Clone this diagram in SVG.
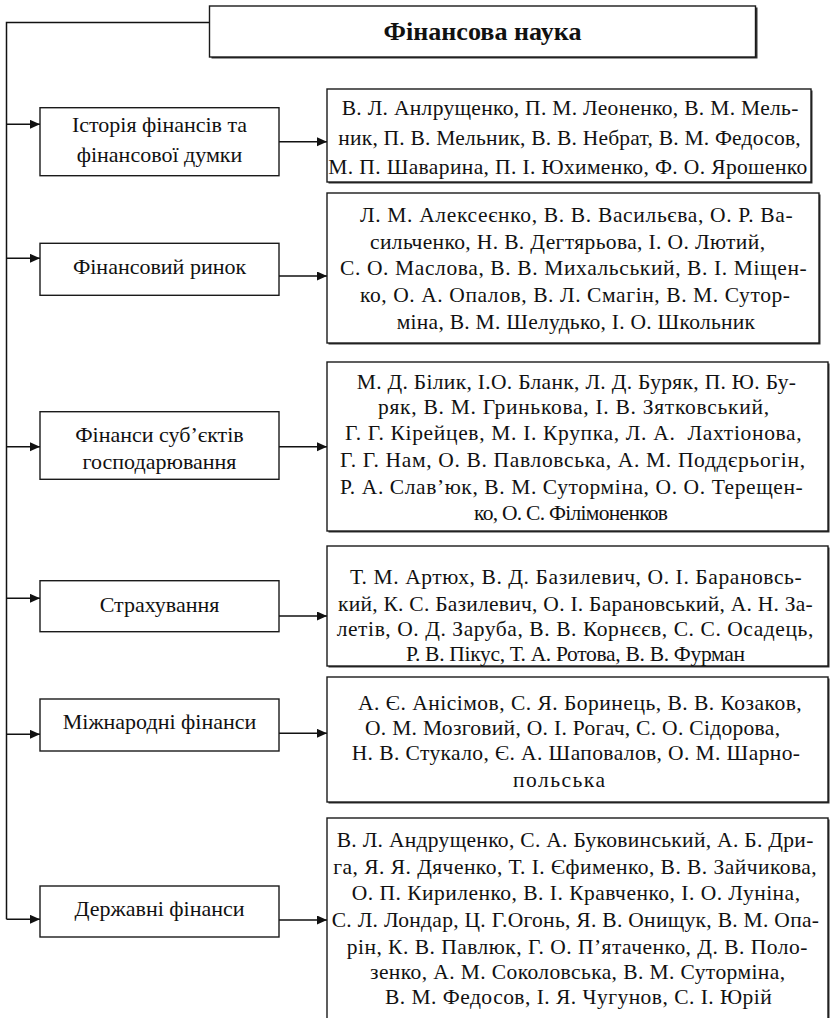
<svg xmlns="http://www.w3.org/2000/svg" width="831" height="1018" viewBox="0 0 831 1018">
<defs>
<style>
.box{fill:#fff;stroke:#1a1a1a;stroke-width:1.4}
.sh{fill:#333}
.t{font-family:"Liberation Serif","Times New Roman",serif;font-size:21.5px;fill:#111}
.lt{font-family:"Liberation Serif","Times New Roman",serif;font-size:22px;fill:#111;text-anchor:middle}
.hd{font-family:"Liberation Serif","Times New Roman",serif;font-size:25px;font-weight:bold;fill:#111;text-anchor:middle}
.conn{stroke:#111;stroke-width:1.5;fill:none}
</style>
<marker id="ah" markerUnits="userSpaceOnUse" markerWidth="11" markerHeight="10" refX="10" refY="4.5" orient="auto">
<path d="M0,0 L10,4.5 L0,9 z" fill="#111"/>
</marker>
</defs>
<rect width="831" height="1018" fill="#fff"/>

<g id="connectors">
<path class="conn" d="M210,22.5 H6.5 V919.3"/>
<path class="conn" d="M6.5,124.3 H40" marker-end="url(#ah)"/>
<path class="conn" d="M6.5,258.3 H40" marker-end="url(#ah)"/>
<path class="conn" d="M6.5,446.7 H40" marker-end="url(#ah)"/>
<path class="conn" d="M6.5,598.3 H40" marker-end="url(#ah)"/>
<path class="conn" d="M6.5,734.3 H40" marker-end="url(#ah)"/>
<path class="conn" d="M6.5,919.3 H40" marker-end="url(#ah)"/>
<path class="conn" d="M277,141.7 H327" marker-end="url(#ah)"/>
<path class="conn" d="M277,276 H327" marker-end="url(#ah)"/>
<path class="conn" d="M277,446.7 H327" marker-end="url(#ah)"/>
<path class="conn" d="M277,616 H327" marker-end="url(#ah)"/>
<path class="conn" d="M277,733.3 H327" marker-end="url(#ah)"/>
<path class="conn" d="M277,920 H327" marker-end="url(#ah)"/>
</g>

<g id="root">
<rect class="sh" x="211.5" y="7.5" width="546" height="51"/>
<rect class="box" x="209.5" y="6" width="546" height="51"/>
<text class="hd" x="482.5" y="40" textLength="198" lengthAdjust="spacingAndGlyphs">Фінансова наука</text>
</g>

<g id="topic1">
<rect class="box" x="40" y="107.7" width="239" height="68"/>
<text class="lt" x="159.5" y="132">Історія фінансів та</text>
<text class="lt" x="159.5" y="162">фінансової думки</text>
</g>
<g id="topic2">
<rect class="box" x="40" y="243.3" width="239" height="52"/>
<text class="lt" x="159.5" y="274">Фінансовий ринок</text>
</g>
<g id="topic3">
<rect class="box" x="40" y="411.7" width="239" height="67.6"/>
<text class="lt" x="159.5" y="442">Фінанси суб’єктів</text>
<text class="lt" x="159.5" y="468.5">господарювання</text>
</g>
<g id="topic4">
<rect class="box" x="40" y="580.7" width="239" height="51"/>
<text class="lt" x="159.5" y="612">Страхування</text>
</g>
<g id="topic5">
<rect class="box" x="40" y="699" width="239" height="52"/>
<text class="lt" x="159.5" y="729">Міжнародні фінанси</text>
</g>
<g id="topic6">
<rect class="box" x="40" y="886" width="239" height="51"/>
<text class="lt" x="159.5" y="916">Державні фінанси</text>
</g>

<g id="authors1">
<rect class="sh" x="328.5" y="90.5" width="484" height="93"/>
<rect class="box" x="327" y="89" width="484" height="93"/>
<text class="t" x="341.7" y="115" textLength="456.6" lengthAdjust="spacing">В. Л. Анлрущенко, П. М. Леоненко, В. М. Мель-</text>
<text class="t" x="338.3" y="145" textLength="462.4" lengthAdjust="spacing">ник, П. В. Мельник, В. В. Небрат, В. М. Федосов,</text>
<text class="t" x="328.3" y="174" textLength="479" lengthAdjust="spacing">М. П. Шаварина, П. І. Юхименко, Ф. О. Ярошенко</text>
</g>

<g id="authors2">
<rect class="sh" x="328.5" y="194.5" width="492" height="150"/>
<rect class="box" x="327" y="193" width="492" height="150"/>
<text class="t" x="360" y="222" textLength="432.7" lengthAdjust="spacing">Л. М. Алексеєнко, В. В. Васильєва, О. Р. Ва-</text>
<text class="t" x="370" y="248.7" textLength="395" lengthAdjust="spacing">сильченко, Н. В. Дегтярьова, І. О. Лютий,</text>
<text class="t" x="340" y="275.3" textLength="466.7" lengthAdjust="spacing">С. О. Маслова, В. В. Михальський, В. І. Міщен-</text>
<text class="t" x="360" y="302" textLength="430" lengthAdjust="spacing">ко, О. А. Опалов, В. Л. Смагін, В. М. Сутор-</text>
<text class="t" x="396.7" y="328.7" textLength="358.3" lengthAdjust="spacing">міна, В. М. Шелудько, І. О. Школьник</text>
</g>

<g id="authors3">
<rect class="sh" x="328.5" y="363.5" width="501" height="169"/>
<rect class="box" x="327" y="362" width="501" height="169"/>
<text class="t" x="356.7" y="388.7" textLength="439.3" lengthAdjust="spacing">М. Д. Білик, І.О. Бланк, Л. Д. Буряк, П. Ю. Бу-</text>
<text class="t" x="378" y="413.7" textLength="391" lengthAdjust="spacing">ряк, В. М. Гринькова, І. В. Зятковський,</text>
<text class="t" x="345" y="440.3" textLength="456.7" lengthAdjust="spacing" xml:space="preserve">Г. Г. Кірейцев, М. І. Крупка, Л. А.  Лахтіонова,</text>
<text class="t" x="340" y="467" textLength="465" lengthAdjust="spacing">Г. Г. Нам, О. В. Павловська, А. М. Поддєрьогін,</text>
<text class="t" x="340" y="493.7" textLength="462.7" lengthAdjust="spacing">Р. А. Слав’юк, В. М. Суторміна, О. О. Терещен-</text>
<text class="t" x="474" y="520.3" textLength="194" lengthAdjust="spacing">ко, О. С. Філімоненков</text>
</g>

<g id="authors4">
<rect class="sh" x="328.5" y="547.5" width="501" height="120"/>
<rect class="box" x="327" y="546" width="501" height="120"/>
<text class="t" x="350" y="584" textLength="451.7" lengthAdjust="spacing">Т. М. Артюх, В. Д. Базилевич, О. І. Барановсь-</text>
<text class="t" x="338" y="610.5" textLength="474.7" lengthAdjust="spacing">кий, К. С. Базилевич, О. І. Барановський, А. Н. За-</text>
<text class="t" x="336.7" y="636" textLength="476.6" lengthAdjust="spacing">летів, О. Д. Заруба, В. В. Корнєєв, С. С. Осадець,</text>
<text class="t" x="406" y="661" textLength="339" lengthAdjust="spacing">Р. В. Пікус, Т. А. Ротова, В. В. Фурман</text>
</g>

<g id="authors5">
<rect class="sh" x="328.5" y="678.5" width="501" height="125"/>
<rect class="box" x="327" y="677" width="501" height="125"/>
<text class="t" x="358" y="710" textLength="443.7" lengthAdjust="spacing">А. Є. Анісімов, С. Я. Боринець, В. В. Козаков,</text>
<text class="t" x="365" y="735" textLength="415" lengthAdjust="spacing">О. М. Мозговий, О. І. Рогач, С. О. Сідорова,</text>
<text class="t" x="351.7" y="760" textLength="448.3" lengthAdjust="spacing">Н. В. Стукало, Є. А. Шаповалов, О. М. Шарно-</text>
<text class="t" x="513" y="787" textLength="92" lengthAdjust="spacing">польська</text>
</g>

<g id="authors6">
<rect class="sh" x="328.5" y="819.5" width="501" height="220"/>
<rect class="box" x="327" y="818" width="501" height="220"/>
<text class="t" x="336.7" y="847" textLength="476.6" lengthAdjust="spacing">В. Л. Андрущенко, С. А. Буковинський, А. Б. Дри-</text>
<text class="t" x="333.3" y="874" textLength="483.4" lengthAdjust="spacing">га, Я. Я. Дяченко, Т. І. Єфименко, В. В. Зайчикова,</text>
<text class="t" x="351.7" y="900" textLength="448.3" lengthAdjust="spacing">О. П. Кириленко, В. І. Кравченко, І. О. Луніна,</text>
<text class="t" x="331.7" y="927" textLength="487.3" lengthAdjust="spacing">С. Л. Лондар, Ц. Г.Огонь, Я. В. Онищук, В. М. Опа-</text>
<text class="t" x="346.7" y="954" textLength="460.6" lengthAdjust="spacing">рін, К. В. Павлюк, Г. О. П’ятаченко, Д. В. Поло-</text>
<text class="t" x="370" y="979" textLength="415" lengthAdjust="spacing">зенко, А. М. Соколовська, В. М. Суторміна,</text>
<text class="t" x="385" y="1004" textLength="386.7" lengthAdjust="spacing">В. М. Федосов, І. Я. Чугунов, С. І. Юрій</text>
</g>
</svg>
